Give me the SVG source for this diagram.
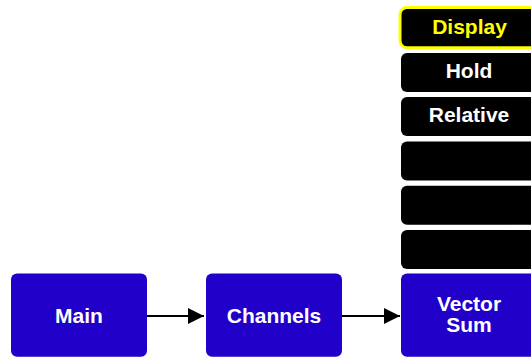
<svg xmlns="http://www.w3.org/2000/svg" width="531" height="358" viewBox="0 0 531 358">
<style>
.blue{fill:#2100C9}
.blk{fill:#000}
.sel{fill:#000;stroke:#FFFF00;stroke-width:3}
.t{font-family:"Liberation Sans",Arial,sans-serif;font-weight:bold;font-size:21px;fill:#fff;text-anchor:middle}
.ty{fill:#FFFF00}
.ln{stroke:#000;stroke-width:2;fill:none}
</style>
<defs>
<marker id="ah" viewBox="0 0 16 16" refX="16" refY="8" markerWidth="16" markerHeight="16" markerUnits="userSpaceOnUse" orient="auto">
<path d="M0,0 L16,8 L0,16 Z" fill="#000"/>
</marker>
</defs>
<g id="connectors">
<line class="ln" x1="147" y1="316" x2="204" y2="316" marker-end="url(#ah)"/>
<line class="ln" x1="342" y1="316" x2="400" y2="316" marker-end="url(#ah)"/>
</g>
<g id="display"><rect class="sel" x="400" y="7.5" width="140" height="40.3" rx="7"/><text class="t ty" x="469.5" y="34">Display</text></g>
<g id="hold"><rect class="blk" x="401" y="53" width="138" height="39" rx="6"/><text class="t" x="469" y="77.5">Hold</text></g>
<g id="relative"><rect class="blk" x="401" y="97" width="138" height="39" rx="6"/><text class="t" x="469" y="121.7">Relative</text></g>
<g id="blank1"><rect class="blk" x="401" y="141.5" width="138" height="39" rx="6"/></g>
<g id="blank2"><rect class="blk" x="401" y="185.7" width="138" height="39" rx="6"/></g>
<g id="blank3"><rect class="blk" x="401" y="230" width="138" height="39" rx="6"/></g>
<g id="main"><rect class="blue" x="11" y="273.5" width="136" height="83.3" rx="6"/><text class="t" x="79" y="322.7">Main</text></g>
<g id="channels"><rect class="blue" x="206" y="273.5" width="136" height="83.3" rx="6"/><text class="t" x="274" y="322.7">Channels</text></g>
<g id="vectorsum"><rect class="blue" x="401" y="273.5" width="136" height="83.3" rx="6"/><text class="t" x="469" y="310.5">Vector</text><text class="t" x="469" y="332">Sum</text></g>
</svg>
